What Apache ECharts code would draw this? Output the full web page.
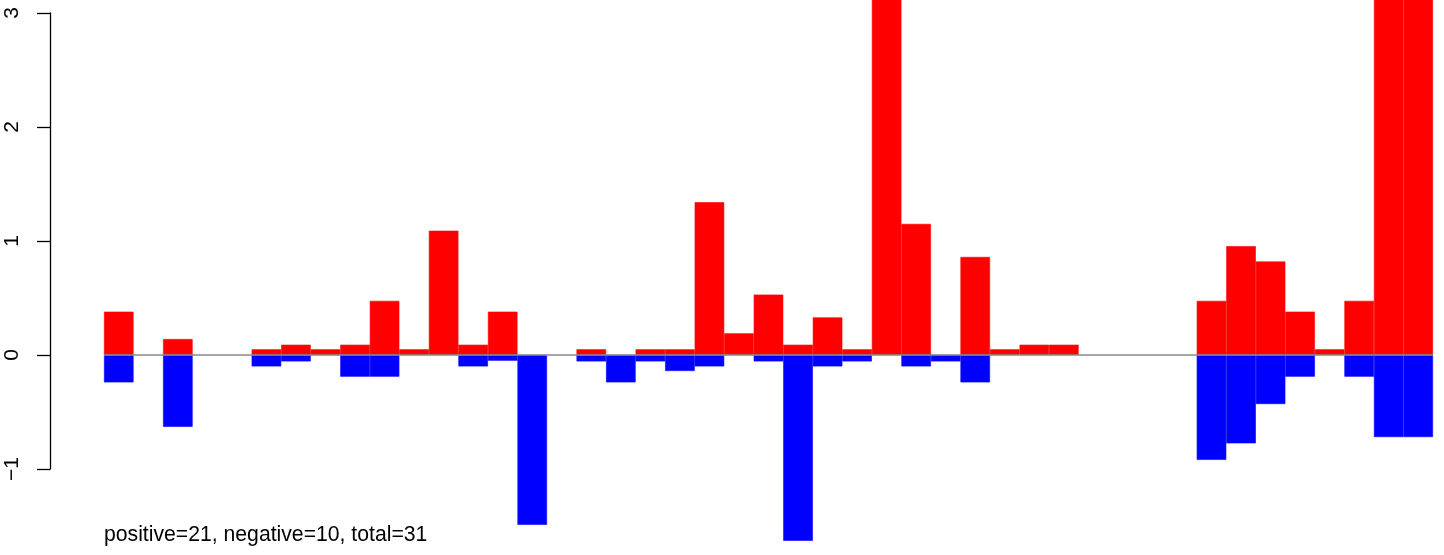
<!DOCTYPE html>
<html>
<head>
<meta charset="utf-8">
<script src="https://cdn.jsdelivr.net/npm/echarts@6/dist/echarts.min.js"></script>
<style>
html,body{margin:0;padding:0;background:#fff;}
#chart{width:1444px;height:555px;}
</style>
</head>
<body>
<div id="chart"></div>
<script>
const categories = ['1','2','3','4','5','6','7','8','9','10','11','12','13','14','15','16','17','18','19','20','21','22','23','24','25','26','27','28','29','30','31','32','33','34','35','36','37','38','39','40','41','42','43','44','45'];
const positiveValues = [0.38,null,0.14,null,null,0.05,0.09,0.05,0.09,0.475,0.05,1.09,0.09,0.38,null,null,0.05,null,0.05,0.05,1.34,0.19,0.53,0.09,0.33,0.05,3.2,1.15,null,0.86,0.05,0.09,0.09,null,null,null,null,0.475,0.955,0.82,0.38,0.05,0.475,3.2,3.2];
const negativeValues = [-0.24,null,-0.63,null,null,-0.10,-0.056,null,-0.19,-0.19,null,null,-0.10,-0.05,-1.49,null,-0.056,-0.24,-0.056,-0.14,-0.10,null,-0.056,-1.63,-0.10,-0.056,null,-0.10,-0.056,-0.24,null,null,null,null,null,null,null,-0.92,-0.775,-0.43,-0.19,null,-0.19,-0.72,-0.72];
const yTicks = [-1,0,1,2,3];
const caption = 'positive=21, negative=10, total=31';

const FONT = '"Liberation Sans", Arial, Helvetica, sans-serif';
const chart = echarts.init(document.getElementById('chart'), null, {renderer:'canvas'});
chart.setOption({
  animation:false,
  backgroundColor:'#ffffff',
  grid:{left:104,right:11,top:13,bottom:86,containLabel:false},
  xAxis:{type:'category',data:categories,show:false,boundaryGap:true},
  yAxis:{
    type:'value',min:yTicks[0],max:yTicks[yTicks.length-1],interval:1,offset:54,
    splitLine:{show:false},
    axisLine:{show:true,lineStyle:{color:'#000',width:1.3}},
    axisTick:{show:true,length:13,lineStyle:{color:'#000',width:1.3}},
    axisLabel:{show:true,rotate:90,margin:27,color:'#000',fontSize:21,fontFamily:FONT,
      formatter:v=>String(v).replace('-','\u2212')}
  },
  series:[
    {type:'line',data:[],z:1,silent:true,
     markLine:{silent:true,symbol:['none','none'],label:{show:false},
       lineStyle:{color:'#888888',width:1.5,type:'solid'},data:[{yAxis:0}]}},
    {type:'bar',data:positiveValues,barWidth:'100%',barGap:'-100%',z:2,clip:false,
     itemStyle:{color:'#ff0000',borderColor:'#ff0000',borderWidth:0.6}},
    {type:'bar',data:negativeValues,barWidth:'100%',barGap:'-100%',z:2,clip:false,
     itemStyle:{color:'#0000ff',borderColor:'#0000ff',borderWidth:0.6}}
  ],
  graphic:[{type:'text',left:104,top:525,style:{text:caption,font:'21.2px '+FONT,fill:'#000'}}]
});
</script>
</body>
</html>
